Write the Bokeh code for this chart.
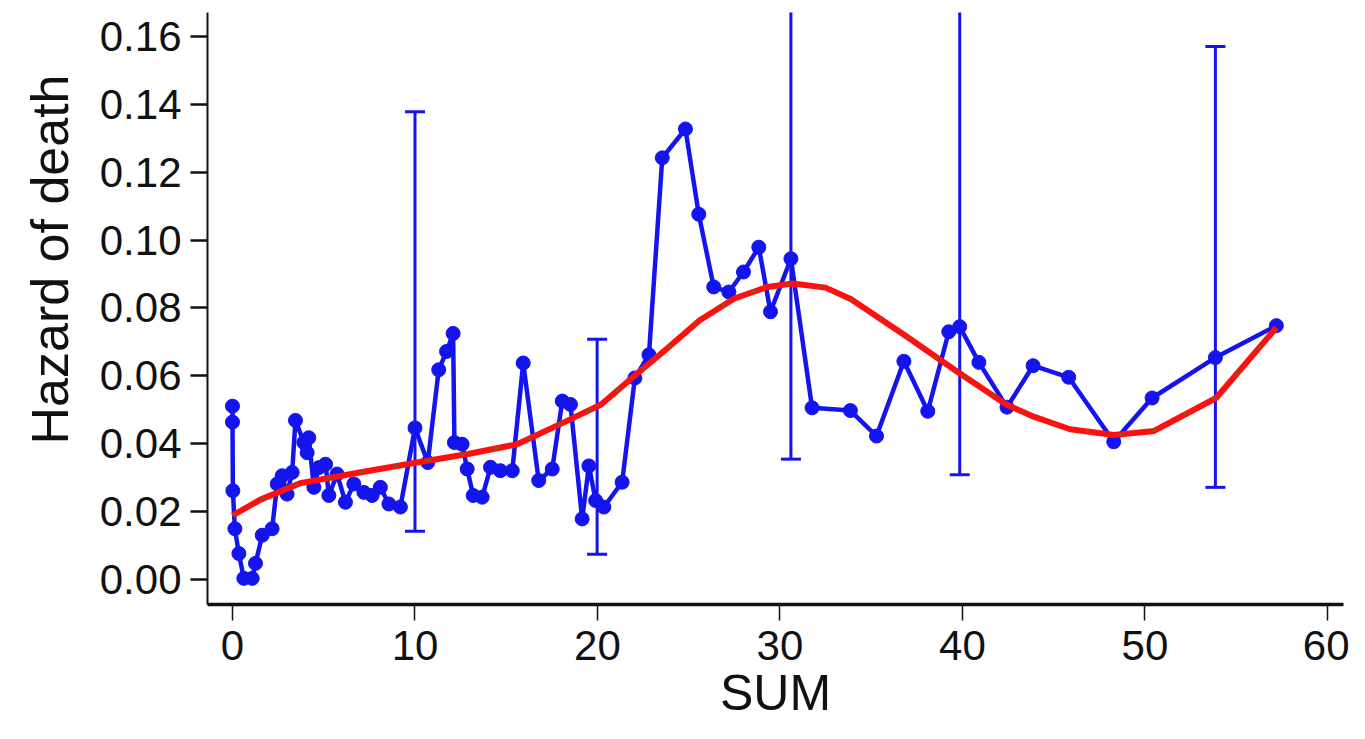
import math
from bokeh.plotting import figure
from bokeh.models import FixedTicker, PrintfTickFormatter, Title
from bokeh.embed import file_html
from bokeh.resources import INLINE

# Observed hazard by SUM (blue)
sum_x = [0, 0, 0.02, 0.13, 0.35, 0.62, 1.08, 1.26, 1.63, 2.17, 2.45, 2.72, 2.99, 3.27,
         3.45, 3.91, 4.09, 4.18, 4.46, 4.73, 5.1, 5.28, 5.73, 6.19, 6.65, 7.2, 7.65,
         8.1, 8.57, 9.2, 10.0, 10.7, 11.3, 11.73, 12.09, 12.16, 12.58, 12.86, 13.19,
         13.68, 14.14, 14.68, 15.33, 15.93, 16.78, 17.52, 18.07, 18.52, 19.16, 19.53,
         19.9, 20.35, 21.35, 22.05, 22.82, 23.55, 24.82, 25.55, 26.37, 27.2, 28.0,
         28.84, 29.48, 30.6, 31.76, 33.86, 35.29, 36.79, 38.1, 39.25, 39.85, 40.9,
         42.44, 43.87, 45.82, 48.29, 50.39, 53.86, 57.2]
hazard = [0.0511, 0.0464, 0.0262, 0.0150, 0.0077, 0.0004, 0.0004, 0.0048, 0.0131, 0.0150,
          0.0282, 0.0306, 0.0252, 0.0316, 0.0469, 0.0404, 0.0374, 0.0418, 0.0272, 0.0330,
          0.0340, 0.0248, 0.0311, 0.0228, 0.0282, 0.0257, 0.0248, 0.0272, 0.0223, 0.0214,
          0.0447, 0.0345, 0.0618, 0.0672, 0.0725, 0.0404, 0.0399, 0.0326, 0.0248, 0.0243,
          0.0331, 0.0321, 0.0321, 0.0638, 0.0292, 0.0326, 0.0526, 0.0516, 0.0179, 0.0335,
          0.0233, 0.0214, 0.0287, 0.0594, 0.0662, 0.1242, 0.1327, 0.1076, 0.0862, 0.0847,
          0.0906, 0.0979, 0.0789, 0.0945, 0.0506, 0.0498, 0.0423, 0.0643, 0.0496, 0.0730,
          0.0745, 0.0640, 0.0508, 0.0630, 0.0596, 0.0406, 0.0535, 0.0654, 0.0748]

# Error bars
err_x = [10.0, 19.98, 30.6, 39.85, 53.86]
err_low = [0.0143, 0.0075, 0.0355, 0.0309, 0.0272]
err_high = [0.1378, 0.0708, 0.20, 0.20, 0.157]

# Smoothed fit (red)
fit_x = [0, 1.5, 3.7, 6.5, 10.1, 12.9, 15.6, 18.3, 20.2, 22.0, 23.8, 25.6, 27.5, 29.3,
         30.7, 32.5, 33.9, 36.8, 39.7, 42.4, 43.9, 45.9, 48.3, 50.5, 53.9, 57.2]
fit_y = [0.0189, 0.0235, 0.0284, 0.0311, 0.0345, 0.0370, 0.0399, 0.0467, 0.0516, 0.0599,
         0.0680, 0.0764, 0.0828, 0.0862, 0.0872, 0.0860, 0.0826, 0.0721, 0.0613, 0.0516,
         0.0480, 0.0443, 0.0426, 0.0438, 0.0535, 0.0742]

y_ticks = [0.0, 0.02, 0.04, 0.06, 0.08, 0.10, 0.12, 0.14, 0.16]
x_ticks = [0, 10, 20, 30, 40, 50, 60]

FONT = "Liberation Sans"
BLUE = "#1414ee"

p = figure(width=1349, height=723, x_range=(-1.37, 60.88), y_range=(-0.0073, 0.167),
           output_backend="svg", toolbar_location=None,
           min_border_left=207, min_border_right=6, min_border_top=12, min_border_bottom=115)
p.outline_line_color = None
p.grid.visible = False
p.background_fill_color = "white"

# error bars
p.segment(x0=err_x, y0=err_low, x1=err_x, y1=err_high, line_color=BLUE, line_width=3)
p.scatter(x=err_x, y=err_low, marker="dash", size=20, line_color=BLUE, line_width=3)
p.scatter(x=err_x, y=err_high, marker="dash", size=20, line_color=BLUE, line_width=3)

# observed
p.line(sum_x, hazard, line_color=BLUE, line_width=4.5)
p.scatter(sum_x, hazard, size=14, fill_color=BLUE, line_color=BLUE)

# fit
p.line(fit_x, fit_y, line_color="#ff1010", line_width=6)
p.line(fit_x, fit_y, line_color="#4d7a1e", line_width=1.5, line_dash="4 30")

# axes
p.yaxis.ticker = FixedTicker(ticks=y_ticks)
p.yaxis.formatter = PrintfTickFormatter(format="%.2f")
p.xaxis.ticker = FixedTicker(ticks=x_ticks)
for ax in (p.xaxis, p.yaxis):
    ax.major_label_text_font = FONT
    ax.major_label_text_font_size = "42px"
    ax.major_label_text_color = "#111111"
    ax.minor_tick_line_color = None
    ax.major_tick_in = 0
    ax.axis_line_color = "#111111"
    ax.major_tick_line_color = "#111111"
p.yaxis.major_tick_out = 17
p.yaxis.major_tick_line_width = 2.5
p.yaxis.axis_line_width = 2
p.yaxis.major_label_standoff = 9
p.xaxis.major_tick_out = 16
p.xaxis.major_tick_line_width = 1.5
p.xaxis.axis_line_width = 3.5
p.xaxis.major_label_standoff = 10
p.xaxis.axis_label = "SUM"
p.xaxis.axis_label_text_font = FONT
p.xaxis.axis_label_text_font_size = "50px"
p.xaxis.axis_label_text_font_style = "normal"
p.xaxis.axis_label_text_color = "#111111"
p.xaxis.axis_label_standoff = 2

ytitle = Title(text="Hazard of death", align="left", offset=160, text_font=FONT,
               text_font_size="52px", text_font_style="normal", text_color="#111111",
               standoff=35)
p.add_layout(ytitle, "left")

open("out.html", "w").write(file_html(p, INLINE))
